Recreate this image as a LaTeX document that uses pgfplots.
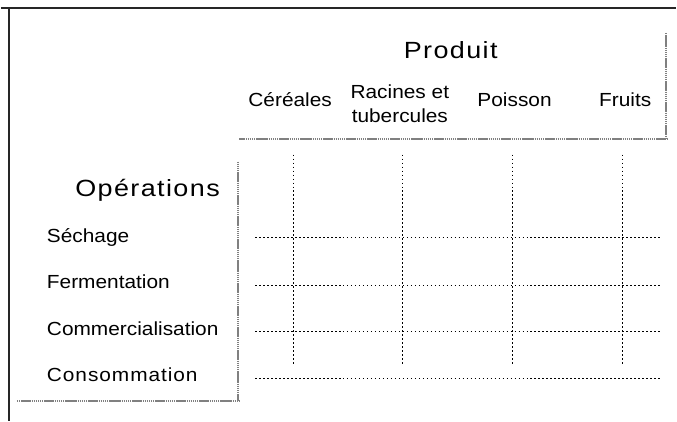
\documentclass[border=0pt]{standalone}
\usepackage{pgfplots}
\pgfplotsset{compat=1.18}
\usepackage{fontspec}
\setmainfont{Liberation Sans}[FakeStretch=1.1]
\newfontfamily\headfont{Liberation Sans}[LetterSpace=6,FakeStretch=1.15]
\newfontfamily\consfont{Liberation Sans}[LetterSpace=5,FakeStretch=1.1]
\definecolor{frame}{gray}{0.15}
\definecolor{scan}{gray}{0.5}
\definecolor{grid}{gray}{0.6}
\begin{document}
\begin{tikzpicture}
\begin{axis}[
  x=1pt, y=1pt, y dir=reverse,
  scale only axis,
  xmin=0, xmax=677, ymin=0, ymax=422,
  hide axis, clip=false,
]
% canvas
\addplot[fill=white, draw=none, forget plot] coordinates {(0,0) (677,0) (677,422) (0,422)} \closedcycle;
% outer frame
\addplot[frame, line width=1.8pt, forget plot] coordinates {(0,8) (677,8)};
\addplot[frame, line width=1.8pt, forget plot] coordinates {(8,8) (8,422)};
% header box
\addplot[scan, line width=2pt, dash pattern=on 1.5pt off 0.6pt, forget plot] coordinates {(667,33) (667,139)};
\addplot[scan, line width=2pt, dash pattern=on 1.5pt off 0.6pt, forget plot] coordinates {(239,139) (668,139)};
% row-label box
\addplot[scan, line width=2pt, dash pattern=on 1.5pt off 0.6pt, forget plot] coordinates {(238,162) (238,402)};
\addplot[scan, line width=2pt, dash pattern=on 1.5pt off 0.6pt, forget plot] coordinates {(16,402) (239,402)};
% grid: horizontal
\addplot[grid, line width=1pt, dash pattern=on 1.5pt off 2.5pt, forget plot] coordinates {(255,238) (662,238)};
\addplot[grid, line width=1pt, dash pattern=on 1.5pt off 2.5pt, forget plot] coordinates {(255,286) (662,286)};
\addplot[grid, line width=1pt, dash pattern=on 1.5pt off 2.5pt, forget plot] coordinates {(255,332) (662,332)};
\addplot[grid, line width=1pt, dash pattern=on 1.5pt off 2.5pt, forget plot] coordinates {(255,379) (662,379)};
% grid: vertical
\addplot[grid, line width=1pt, dash pattern=on 1.5pt off 2.5pt, forget plot] coordinates {(293,155) (293,367)};
\addplot[grid, line width=1pt, dash pattern=on 1.5pt off 2.5pt, forget plot] coordinates {(403,155) (403,367)};
\addplot[grid, line width=1pt, dash pattern=on 1.5pt off 2.5pt, forget plot] coordinates {(513,155) (513,367)};
\addplot[grid, line width=1pt, dash pattern=on 1.5pt off 2.5pt, forget plot] coordinates {(623,155) (623,367)};
% header texts
\node[anchor=base, font=\headfont\fontsize{23.5}{27}\selectfont] at (axis cs:451,59) {Produit};
\node[anchor=base, font=\fontsize{19}{22}\selectfont] at (axis cs:290,107) {Céréales};
\node[anchor=base, font=\fontsize{19}{22}\selectfont] at (axis cs:400,99) {Racines et};
\node[anchor=base, font=\fontsize{19}{22}\selectfont] at (axis cs:400,123) {tubercules};
\node[anchor=base, font=\fontsize{19}{22}\selectfont] at (axis cs:515,107) {Poisson};
\node[anchor=base, font=\fontsize{19}{22}\selectfont] at (axis cs:626,107) {Fruits};
% row texts
\node[anchor=base, font=\headfont\fontsize{23.5}{27}\selectfont] at (axis cs:147,197) {Opérations};
\node[anchor=base west, inner sep=0pt, font=\fontsize{19}{22}\selectfont] at (axis cs:46,243) {Séchage};
\node[anchor=base west, inner sep=0pt, font=\fontsize{19}{22}\selectfont] at (axis cs:46,289) {Fermentation};
\node[anchor=base west, inner sep=0pt, font=\fontsize{19}{22}\selectfont] at (axis cs:46,336) {Commercialisation};
\node[anchor=base west, inner sep=0pt, font=\consfont\fontsize{19}{22}\selectfont] at (axis cs:46,383) {Consommation};
\end{axis}
\end{tikzpicture}
\end{document}
